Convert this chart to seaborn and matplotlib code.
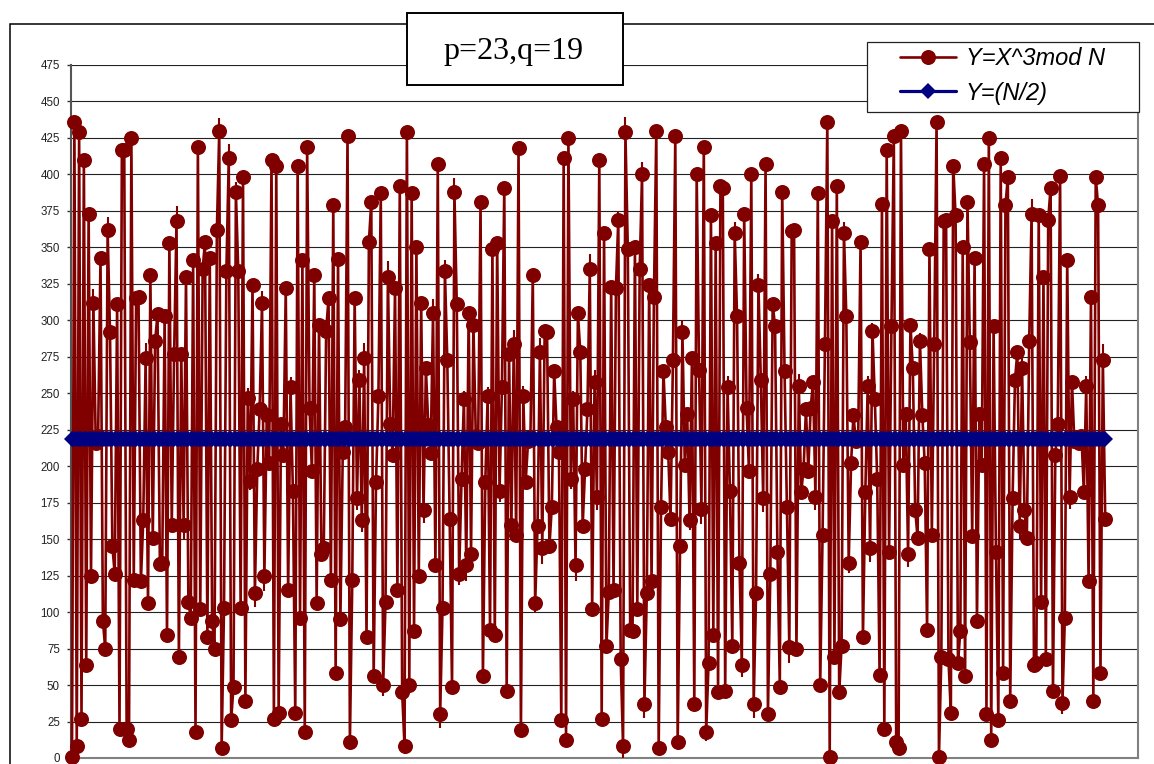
import numpy as np
import pandas as pd
import matplotlib
matplotlib.use("Agg")
import matplotlib.pyplot as plt
import seaborn as sns

# values come in pairs, one low trace and its partner
first_values = [
    1, 8, 27, 64, 125, 216, 343, 75, 292, 126,
    20, 417, 12, 122, 316, 163, 106, 151, 304, 134,
    84, 160, 368, 277, 330, 96, 18, 102, 354, 343,
    75, 430, 103, 411, 49, 334, 398, 247, 324, 198,
    312, 235, 410, 406, 229, 322, 254, 31, 96, 18,
    240, 331, 297, 144, 315, 379, 342, 210, 426, 122,
    178, 163, 83, 381, 189, 387, 107, 229, 322, 392,
    8, 50, 87, 125, 170, 228, 305, 407, 103, 273,
    49, 311, 191, 132, 140, 221, 381, 189, 88, 84,
    183, 391, 277, 284, 418, 248, 217, 331, 159, 144,
    292, 172, 227, 26, 12, 191, 132, 278, 198, 335,
    258, 410, 360, 114, 115, 369, 8, 349, 87, 102,
    400, 113, 121, 430, 172, 227, 164, 426, 145, 201,
    163, 37, 266, 419, 65, 84, 45, 391, 254, 77,
    303, 64, 240, 400, 113, 259, 407, 126, 296, 49,
    265, 76, 362, 255, 198, 197, 258, 387, 153, 436,
    368, 392, 77, 303, 202, 217, 354, 182, 144, 246,
    57, 20, 141, 426, 7, 201, 140, 267, 151, 235,
    88, 153, 436, 69, 369, 31, 372, 87, 56, 285,
    343, 236, 407, 425, 296, 26, 58, 398, 178, 278,
    267, 151, 373, 65, 107, 68, 391, 208, 399, 96,
    179, 217, 216, 182, 121, 39, 379, 273,
]
second_values = [
    436, 429, 410, 373, 312, 221, 94, 362, 145, 311,
    417, 20, 425, 315, 121, 274, 331, 286, 133, 303,
    353, 277, 69, 160, 107, 341, 419, 335, 83, 94,
    362, 7, 334, 26, 388, 103, 39, 190, 113, 239,
    125, 202, 27, 31, 208, 115, 183, 406, 341, 419,
    197, 106, 140, 293, 122, 58, 95, 227, 11, 315,
    259, 274, 354, 56, 248, 50, 330, 208, 115, 45,
    429, 387, 350, 312, 267, 209, 132, 30, 334, 164,
    388, 126, 246, 305, 297, 216, 56, 248, 349, 353,
    254, 46, 160, 153, 19, 189, 220, 106, 278, 293,
    145, 265, 210, 411, 425, 246, 305, 159, 239, 102,
    179, 27, 77, 323, 322, 68, 429, 88, 350, 335,
    37, 324, 316, 7, 265, 210, 273, 11, 292, 236,
    274, 400, 171, 18, 372, 353, 392, 46, 183, 360,
    134, 373, 197, 37, 324, 178, 30, 311, 141, 388,
    172, 361, 75, 182, 239, 240, 179, 50, 284, 1,
    69, 45, 360, 134, 235, 220, 83, 255, 293, 191,
    380, 417, 296, 11, 430, 236, 297, 170, 286, 202,
    349, 284, 1, 368, 68, 406, 65, 350, 381, 152,
    94, 201, 30, 12, 141, 411, 379, 39, 259, 159,
    170, 286, 64, 372, 330, 369, 46, 229, 38, 341,
    258, 220, 221, 255, 316, 398, 58, 164,
]
half_level = 218.5
y_ticks = list(range(0, 476, 25))
series_names = ["Y=X^3mod N", "Y=(N/2)"]
box_title = "p=23,q=19"

W, H = 1154, 764
RED = "#800000"
NAVY = "#000080"
PX_PER_UNIT = (758 - 65) / 475
PX_PER_POINT = 2.375

y_values = np.column_stack([first_values, second_values]).ravel()
df = pd.DataFrame({"pos": np.arange(len(y_values)), "y": y_values})
df["half"] = half_level

sns.set_theme(style="white")
plt.rcParams["font.family"] = ["Liberation Sans", "DejaVu Sans"]

fig = plt.figure(figsize=(W / 100, H / 100), dpi=100)
ax = fig.add_axes([71 / W, (H - 758) / H, (1138 - 71) / W, (758 - 65) / H])

sns.lineplot(data=df, x="pos", y="y", ax=ax, color=RED, linewidth=1.9, marker="o",
             markersize=10.8, markeredgecolor=RED, markeredgewidth=0,
             errorbar=None, clip_on=False, label=series_names[0], zorder=3)

# miter tips on the sharper turns, agg drops the very long ones so add them here
rise = np.diff(y_values) * PX_PER_UNIT
left, right = np.abs(rise[:-1]), np.abs(rise[1:])
is_turn = rise[:-1] * rise[1:] < 0
with np.errstate(divide="ignore"):
    angle = PX_PER_POINT / left + PX_PER_POINT / right
tip_px = 0.36 / angle
keep = is_turn & (tip_px > 7) & (tip_px < 16)
tip_idx = np.where(keep)[0] + 1
tip_dir = np.sign(rise[:-1][keep])
ax.vlines(df["pos"].values[tip_idx], y_values[tip_idx],
          y_values[tip_idx] + tip_dir * tip_px[keep] / PX_PER_UNIT,
          color=RED, linewidth=1.5, zorder=3, clip_on=False)

sns.lineplot(data=df, x="pos", y="half", ax=ax, color=NAVY, linewidth=2.3, marker="D",
             markersize=8.2, markeredgecolor=NAVY, markeredgewidth=0,
             errorbar=None, clip_on=False, label=series_names[1], zorder=4)

ax.set_xlim(-0.42, 448.8)
ax.set_ylim(0, 475)
ax.set_xlabel("")
ax.set_ylabel("")
ax.set_xticks([])
ax.set_yticks(y_ticks)
ax.tick_params(axis="y", left=True, length=3, width=1, color="#333333", labelsize=8.3,
               labelcolor="#222222", pad=5)
ax.grid(axis="y", color="#222222", linewidth=0.8)
ax.set_axisbelow(True)
ax.spines["top"].set_visible(False)
for side in ["left", "right", "bottom"]:
    ax.spines[side].set_color("#808080")
    ax.spines[side].set_linewidth(1.5)
ax.spines["left"].set_color("#555555")

# legend box is a separate patch, its side margins are wider than the top and bottom ones
ax.add_patch(plt.Rectangle((867 / W, (H - 112) / H), 272 / W, 70 / H, facecolor="white",
                           edgecolor="#222222", linewidth=0.9, transform=fig.transFigure,
                           clip_on=False, zorder=15))
leg = ax.legend(loc="upper left", bbox_to_anchor=(900 / W, (H - 47) / H),
                bbox_transform=fig.transFigure, borderaxespad=0, borderpad=0, frameon=False,
                handlelength=2.37, handletextpad=0.42, labelspacing=0.49,
                prop={"size": 17, "style": "italic"})
leg.set_zorder(20)
for txt in leg.get_texts():
    txt.set_color("black")

# outer chart frame, runs off the right and bottom of the image
fig.add_artist(plt.Rectangle((10 / W, -0.1), 1.2, (H - 24) / H + 0.1, fill=False,
                             edgecolor="black", linewidth=1.1,
                             transform=fig.transFigure, zorder=-1))

fig.add_artist(plt.Rectangle((407 / W, (H - 85) / H), 216 / W, 72 / H, facecolor="white",
                             edgecolor="black", linewidth=1.4,
                             transform=fig.transFigure, zorder=10))
fig.text(514 / W, (H - 52) / H, box_title, family="Liberation Serif", fontsize=23,
         color="black", ha="center", va="center", zorder=11)

fig.savefig("out.png", dpi=100)
